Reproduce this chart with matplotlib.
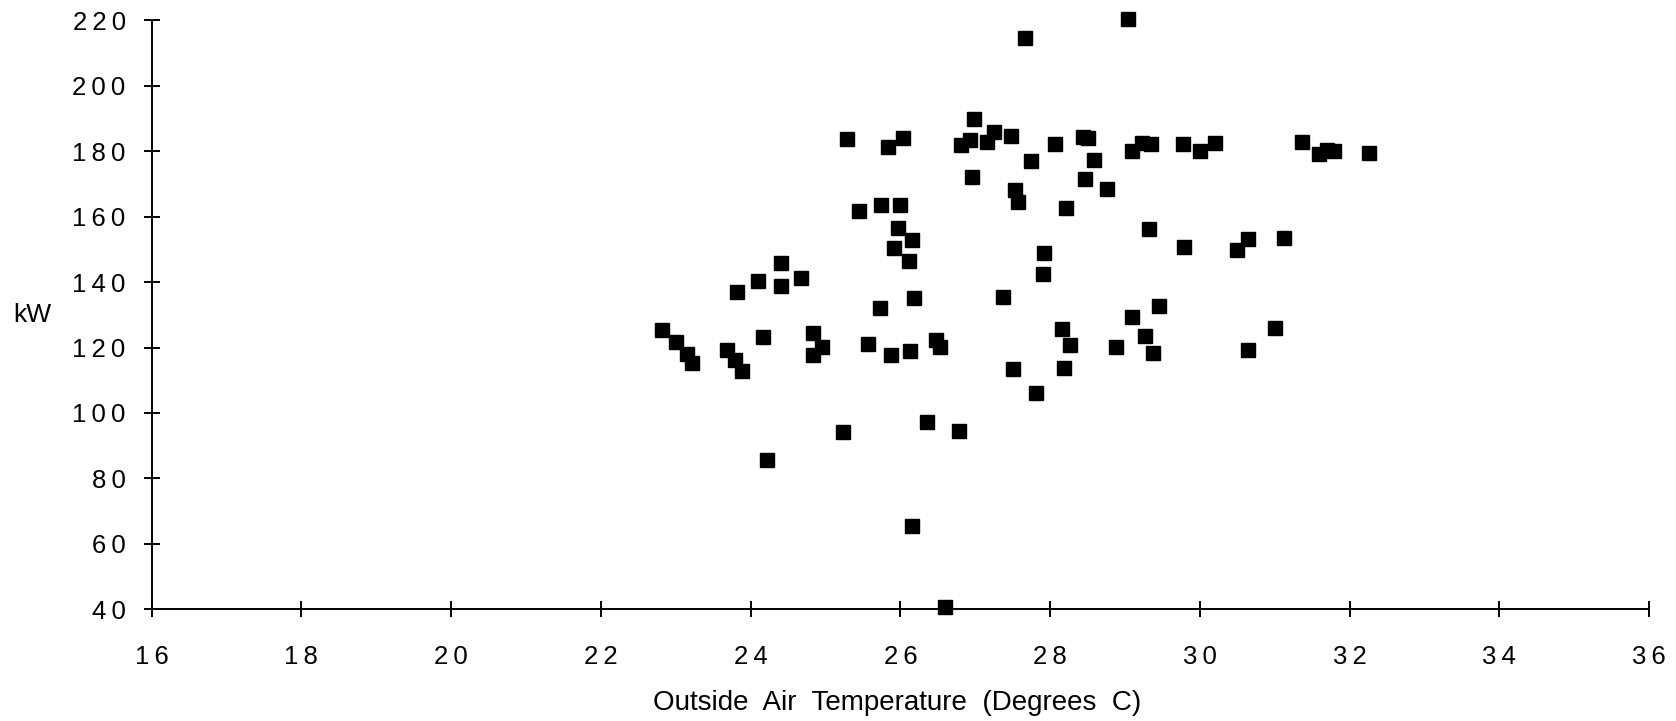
import matplotlib
matplotlib.use('Agg')
import matplotlib.pyplot as plt
from matplotlib.ticker import FuncFormatter

temp = [29.04, 27.66, 26.99, 25.29, 26.04, 25.84, 26.81, 26.93, 27.25, 27.16,
        27.48, 27.75, 28.07, 28.44, 28.50, 28.59, 26.96, 28.47, 28.76, 27.53,
        27.57, 28.21, 25.45, 25.74, 26.00, 25.97, 26.15, 25.91, 26.12, 27.92,
        27.90, 27.37, 26.18, 25.73, 24.41, 24.10, 24.67, 24.40, 23.82, 22.81,
        23.00, 23.15, 23.22, 23.69, 23.79, 23.88, 24.16, 24.83, 24.95, 24.83,
        25.57, 25.88, 26.13, 26.47, 26.53, 27.50, 28.16, 28.27, 28.18, 27.81,
        26.35, 25.24, 26.79, 24.22, 26.15, 26.60, 29.10, 29.23, 29.35, 29.78,
        30.00, 30.20, 31.36, 31.59, 31.70, 31.79, 32.26, 29.32, 29.79, 30.65,
        30.50, 31.13, 29.46, 29.10, 29.27, 28.88, 29.38, 30.65, 31.00]
kw = [220.4, 214.5, 189.8, 183.8, 184.1, 181.4, 181.9, 183.4, 186.0, 182.7,
      184.7, 177.0, 182.1, 184.3, 184.0, 177.3, 172.1, 171.5, 168.5, 168.1,
      164.4, 162.5, 161.8, 163.5, 163.5, 156.4, 152.8, 150.5, 146.5, 148.8,
      142.5, 135.5, 135.2, 132.1, 145.7, 140.3, 141.4, 138.9, 136.9, 125.5,
      121.6, 118.0, 115.3, 119.2, 116.3, 112.9, 123.1, 124.3, 120.3, 117.6,
      121.0, 117.7, 118.8, 122.2, 120.3, 113.4, 125.7, 120.9, 113.6, 106.0,
      97.3, 94.1, 94.6, 85.6, 65.5, 40.8, 180.2, 182.4, 182.2, 182.2,
      180.1, 182.4, 182.7, 179.0, 180.5, 180.1, 179.5, 156.2, 150.8, 153.1,
      149.8, 153.6, 132.8, 129.4, 123.6, 120.1, 118.2, 119.4, 125.9]

x_ticks = list(range(16, 37, 2))
y_ticks = list(range(40, 221, 20))

plt.rcParams['font.family'] = ['Liberation Sans', 'DejaVu Sans']

fig = plt.figure(figsize=(16.76, 7.21), dpi=100)
ax = fig.add_axes([0.0905, 0.1549, 0.8934, 0.8169])

ax.plot(temp, kw, 's', color='black', markersize=10, clip_on=False)

ax.set_xlim(16, 36)
ax.set_ylim(40, 220)
ax.set_xticks(x_ticks)
ax.set_yticks(y_ticks)

# the old typewriter-style labels have wide gaps between digits
spaced = FuncFormatter(lambda v, pos: '\u2009'.join(str(int(round(v)))))
ax.xaxis.set_major_formatter(spaced)
ax.yaxis.set_major_formatter(spaced)

for side in ['top', 'right']:
    ax.spines[side].set_visible(False)
for side in ['left', 'bottom']:
    ax.spines[side].set_linewidth(1.4)

ax.tick_params(direction='inout', length=11.5, width=1.4, labelsize=18.5)
ax.tick_params(axis='x', pad=20)
ax.tick_params(axis='y', pad=13)

fig.text(0.5355, 0.025, 'Outside  Air  Temperature  (Degrees  C)',
         ha='center', va='center', fontsize=20)
fig.text(0.019, 0.563, 'kW', ha='center', va='center', fontsize=19)

fig.savefig('out.png', dpi=100)
